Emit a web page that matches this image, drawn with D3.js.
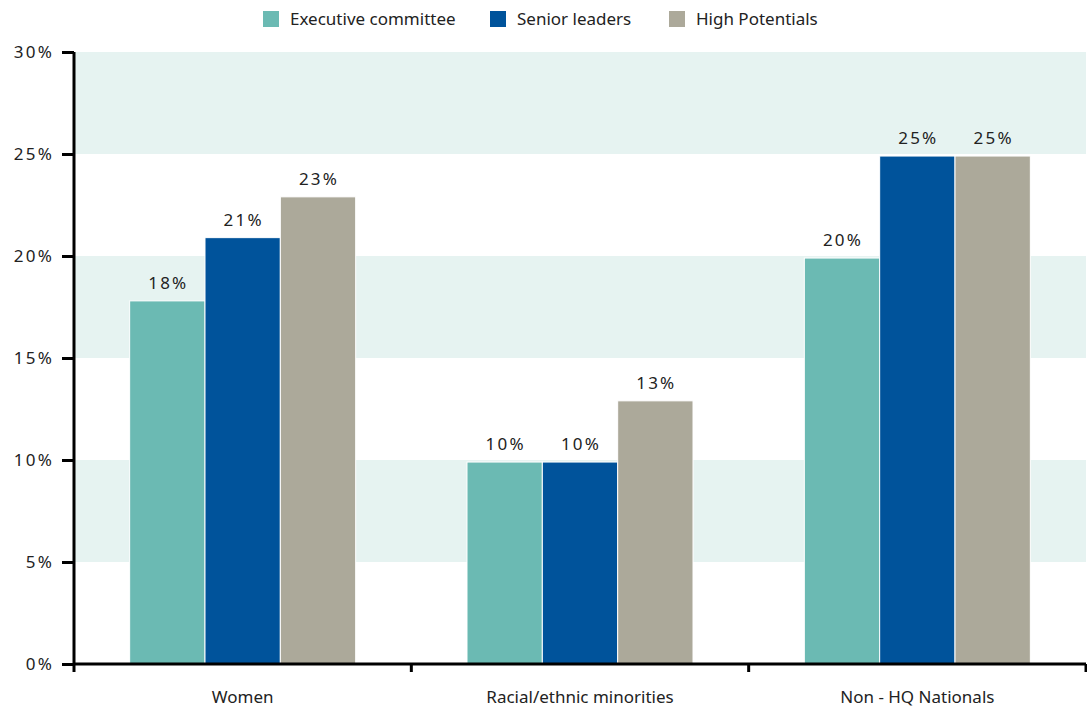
<!DOCTYPE html>
<html>
<head>
<meta charset="utf-8">
<script src="https://cdn.jsdelivr.net/npm/d3@7"></script>
<style>
  body { margin: 0; background: #fff; }
  text { font-family: "Noto Sans", "Open Sans", sans-serif; fill: #222; }
</style>
</head>
<body>
<div id="chart"></div>
<script>
// data
const categories = ["Women", "Racial/ethnic minorities", "Non - HQ Nationals"];
const seriesNames = ["Executive committee", "Senior leaders", "High Potentials"];
const execCommittee = [17.8, 9.9, 19.9];
const seniorLeaders = [20.9, 9.9, 24.9];
const highPotentials = [22.9, 12.9, 24.9];
const valueLabels = [["18%", "21%", "23%"], ["10%", "10%", "13%"], ["20%", "25%", "25%"]];
const yTicks = [0, 5, 10, 15, 20, 25, 30];
const colors = ["#6bbab3", "#00539b", "#aca99a"];

const series = [execCommittee, seniorLeaders, highPotentials];

const margin = {top: 52, right: 1, bottom: 44, left: 74},
    width = 1087 - margin.left - margin.right,
    height = 708 - margin.top - margin.bottom;

const svg = d3.select("#chart")
    .append("svg")
    .attr("width", 1087)
    .attr("height", 708);

const g = svg.append("g")
    .attr("transform", "translate(" + margin.left + "," + margin.top + ")");

const y = d3.scaleLinear().domain([0, 30]).range([height, 0]);
const x0 = d3.scaleBand().domain(categories).range([0, width]);
const x1 = d3.scaleBand().domain(seriesNames)
    .range([x0.bandwidth() * 0.165, x0.bandwidth() * 0.835]);

// shaded bands: 5-10, 15-20, 25-30
[[5, 10], [15, 20], [25, 30]].forEach(b => {
    g.append("rect")
        .attr("x", 0)
        .attr("y", y(b[1]))
        .attr("width", width)
        .attr("height", y(b[0]) - y(b[1]))
        .attr("fill", "#e6f3f1");
});

// bars
const groups = g.selectAll(".cat")
    .data(categories)
    .enter()
    .append("g")
    .attr("transform", d => "translate(" + x0(d) + ",0)");

groups.selectAll("rect")
    .data((d, i) => seriesNames.map((s, j) => ({s: s, v: series[j][i], label: valueLabels[i][j], c: colors[j]})))
    .enter()
    .append("rect")
    .attr("x", d => x1(d.s))
    .attr("y", d => y(d.v))
    .attr("width", x1.bandwidth())
    .attr("height", d => height - y(d.v))
    .attr("fill", d => d.c)
    .attr("stroke", "#fff")
    .attr("stroke-width", 1);

groups.selectAll("text")
    .data((d, i) => seriesNames.map((s, j) => ({s: s, v: series[j][i], label: valueLabels[i][j]})))
    .enter()
    .append("text")
    .attr("x", d => x1(d.s) + x1.bandwidth() / 2 + 1)
    .attr("y", d => y(d.v) - 12)
    .attr("text-anchor", "middle")
    .style("font-size", "17px")
    .style("letter-spacing", "2.2px")
    .text(d => d.label);

// y axis
const yAxis = g.append("g")
    .call(d3.axisLeft(y).tickValues(yTicks).tickSize(12).tickPadding(8).tickFormat(d => d + "%"));
yAxis.select(".domain").attr("stroke", "#000").attr("stroke-width", 3)
    .attr("d", "M0," + y(30) + "V" + height);
yAxis.selectAll(".tick line").attr("stroke", "#000").attr("stroke-width", 3);
yAxis.selectAll(".tick text")
    .style("font-family", "'Noto Sans', sans-serif")
    .style("font-size", "17px")
    .style("letter-spacing", "2.2px")
    .attr("fill", "#222");

// x axis
const xAxis = g.append("g")
    .attr("transform", "translate(0," + height + ")");
xAxis.append("line")
    .attr("x1", 0).attr("x2", width)
    .attr("stroke", "#000").attr("stroke-width", 3);
xAxis.selectAll(".sep")
    .data(d3.range(categories.length + 1))
    .enter()
    .append("line")
    .attr("x1", i => i < categories.length ? x0(categories[i]) : width)
    .attr("x2", i => i < categories.length ? x0(categories[i]) : width)
    .attr("y1", 0).attr("y2", 8)
    .attr("stroke", "#000").attr("stroke-width", 3);
xAxis.selectAll(".lab")
    .data(categories)
    .enter()
    .append("text")
    .attr("x", d => x0(d) + x0.bandwidth() / 2)
    .attr("y", 39)
    .attr("text-anchor", "middle")
    .style("font-size", "17px")
    .text(d => d);

// legend
const legendX = [263, 490, 669];
const legend = svg.selectAll(".legend")
    .data(seriesNames)
    .enter()
    .append("g")
    .attr("transform", (d, i) => "translate(" + legendX[i] + ",11)");
legend.append("rect")
    .attr("width", 16).attr("height", 16)
    .attr("fill", (d, i) => colors[i]);
legend.append("text")
    .attr("x", 27).attr("y", 14)
    .style("font-size", "17px")
    .text(d => d);
</script>
</body>
</html>
